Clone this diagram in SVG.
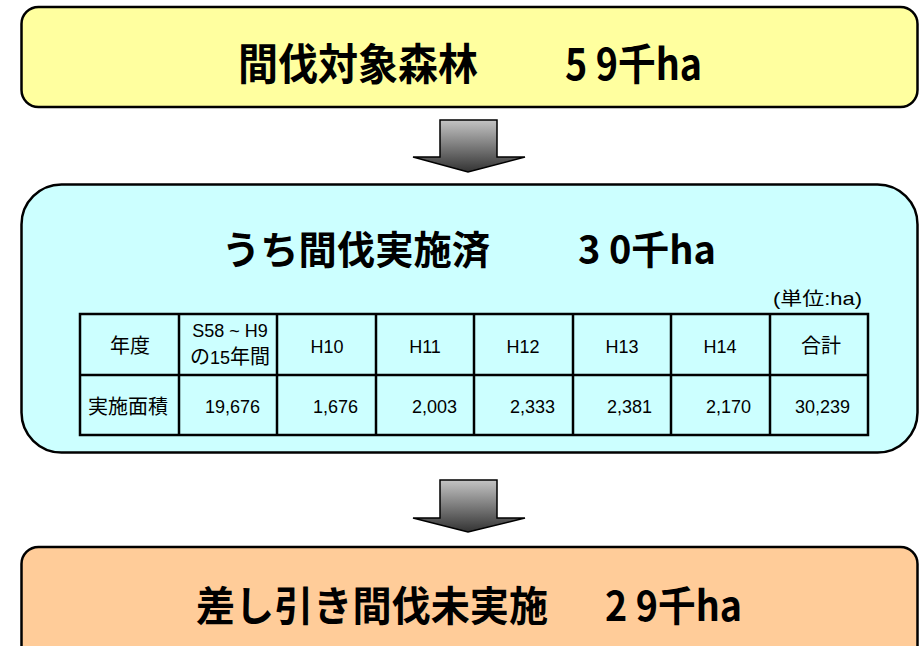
<svg xmlns="http://www.w3.org/2000/svg" width="922" height="646" viewBox="0 0 922 646">
<style>
.box{stroke:#000;stroke-width:2.5}
.title{font-family:"Noto Sans CJK JP","Liberation Sans",sans-serif;font-weight:bold;fill:#000}
.cell{font-family:"Liberation Sans","Noto Sans CJK JP",sans-serif;font-size:18px;fill:#000}
.jp{font-family:"Noto Sans CJK JP","Liberation Sans",sans-serif;font-size:20px;fill:#000}
.grid{stroke:#000;stroke-width:2.5;fill:none}
.arrow{fill:url(#g);stroke:#000;stroke-width:1.5;stroke-linejoin:miter}
</style>
<defs>
<linearGradient id="g" x1="0" y1="0" x2="0" y2="1">
<stop offset="0" stop-color="#c4c4c4"/>
<stop offset="1" stop-color="#333"/>
</linearGradient>
</defs>
<rect width="922" height="646" fill="#fff"/>
<g id="node-top">
<rect class="box" x="21.5" y="7" width="896" height="100" rx="17" fill="#FFFF9F"/>
<text class="title" x="238" y="80" font-size="43" textLength="240" lengthAdjust="spacingAndGlyphs">間伐対象森林</text>
<text class="title" x="565" y="80" font-size="43" textLength="137" lengthAdjust="spacingAndGlyphs">5 9千ha</text>
</g>
<g id="node-middle">
<rect class="box" x="21.5" y="184.5" width="896" height="268" rx="40" fill="#CCFFFF"/>
<text class="title" x="222" y="264" font-size="39" textLength="268" lengthAdjust="spacingAndGlyphs">うち間伐実施済</text>
<text class="title" x="578" y="264" font-size="39" textLength="138" lengthAdjust="spacingAndGlyphs">3 0千ha</text>
<text class="cell" x="773" y="305" font-size="16" textLength="89" lengthAdjust="spacingAndGlyphs">(単位:ha)</text>
<g id="table">
<rect class="grid" x="80" y="314" width="788" height="121"/>
<line class="grid" x1="80" y1="375" x2="868" y2="375"/>
<line class="grid" x1="179" y1="314" x2="179" y2="435"/>
<line class="grid" x1="277" y1="314" x2="277" y2="435"/>
<line class="grid" x1="376" y1="314" x2="376" y2="435"/>
<line class="grid" x1="474" y1="314" x2="474" y2="435"/>
<line class="grid" x1="573" y1="314" x2="573" y2="435"/>
<line class="grid" x1="671" y1="314" x2="671" y2="435"/>
<line class="grid" x1="770" y1="314" x2="770" y2="435"/>
<text class="jp" x="130" y="353" text-anchor="middle">年度</text>
<text class="cell" x="230" y="337" text-anchor="middle">S58 ~ H9</text>
<text class="jp" x="230" y="364" text-anchor="middle">の<tspan class="cell">15</tspan>年間</text>
<text class="cell" x="327" y="353" text-anchor="middle">H10</text>
<text class="cell" x="425" y="353" text-anchor="middle">H11</text>
<text class="cell" x="523" y="353" text-anchor="middle">H12</text>
<text class="cell" x="622" y="353" text-anchor="middle">H13</text>
<text class="cell" x="720" y="353" text-anchor="middle">H14</text>
<text class="jp" x="821" y="353" text-anchor="middle">合計</text>
<text class="jp" x="128" y="414" text-anchor="middle">実施面積</text>
<text class="cell" x="260" y="413" text-anchor="end">19,676</text>
<text class="cell" x="358" y="413" text-anchor="end">1,676</text>
<text class="cell" x="457" y="413" text-anchor="end">2,003</text>
<text class="cell" x="555" y="413" text-anchor="end">2,333</text>
<text class="cell" x="652" y="413" text-anchor="end">2,381</text>
<text class="cell" x="751" y="413" text-anchor="end">2,170</text>
<text class="cell" x="850" y="413" text-anchor="end">30,239</text>
</g>
</g>
<g id="node-bottom">
<rect class="box" x="21.5" y="547" width="896" height="120" rx="17" fill="#FFCC99"/>
<text class="title" x="196" y="621" font-size="41" textLength="352" lengthAdjust="spacingAndGlyphs">差し引き間伐未実施</text>
<text class="title" x="605" y="621" font-size="41" textLength="137" lengthAdjust="spacingAndGlyphs">2 9千ha</text>
</g>
<g id="connectors">
<polygon class="arrow" points="440,120 497,120 497,157 525,157 468,172 413,157 440,157"/>
<polygon class="arrow" points="440,480 497,480 497,518 525,518 468,532 413,518 440,518"/>
</g>
</svg>
